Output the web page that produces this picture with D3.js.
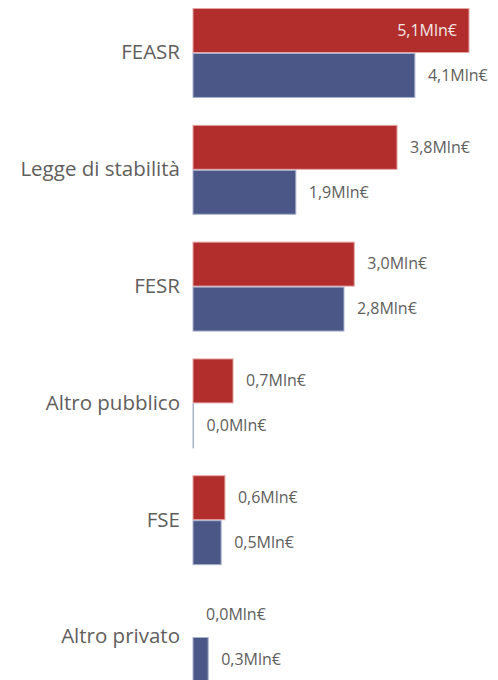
<!DOCTYPE html>
<html>
<head>
<meta charset="utf-8">
<script src="https://cdn.jsdelivr.net/npm/d3@7"></script>
<style>
  body { margin: 0; background: #fff; }
  svg { display: block; font-family: "Open Sans", "Noto Sans", sans-serif; }
</style>
</head>
<body>
<svg id="chart" width="498" height="680"></svg>
<script>
//Categories and the two series (Mln€)
var categories = ["FEASR", "Legge di stabilità", "FESR", "Altro pubblico", "FSE", "Altro privato"];
var seriesNames = ["rosso", "blu"];
var redValues = [5.1, 3.77, 2.98, 0.74, 0.59, 0];
var blueValues = [4.1, 1.9, 2.79, 0.01, 0.52, 0.28];

//Colours
var fillColors = {rosso: "#b22e2c", blu: "#4b5887"};
var strokeColors = {rosso: "#e3a6a5", blu: "#aab2cc"};

var W = 498, H = 680;
var svg = d3.select("#chart");

//Build the rows
var rows = categories.map(function(c, i){
    return {cat: c, vals: [
        {key: "rosso", v: redValues[i]},
        {key: "blu", v: blueValues[i]}
    ]};
});

//Scales
var y = d3.scaleBand()
    .domain(categories)
    .range([-5.4, 695.4])
    .paddingInner(0.23)
    .paddingOuter(0.115);

var ySub = d3.scaleBand()
    .domain(seriesNames)
    .range([0, y.bandwidth()]);

var x = d3.scaleLinear()
    .domain([0, 5.1])
    .range([193, 469]);

var fmt = function(v){ return d3.format(".1f")(v).replace(".", ",") + "Mln€"; };

//Category labels
svg.append("g").selectAll("text")
    .data(categories)
    .enter().append("text")
    .attr("x", 180)
    .attr("y", function(d){ return y(d) + y.bandwidth() / 2 + 1; })
    .attr("text-anchor", "end")
    .attr("dominant-baseline", "middle")
    .attr("fill", "#605e5c")
    .style("font-size", "20.5px")
    .text(function(d){ return d; });

var groups = svg.append("g").selectAll("g")
    .data(rows)
    .enter().append("g")
    .attr("transform", function(d){ return "translate(0," + y(d.cat) + ")"; });

//Bars (zero values are not drawn)
groups.selectAll("rect")
    .data(function(d){ return d.vals.filter(function(e){ return e.v > 0; }); })
    .enter().append("rect")
    .attr("x", x(0))
    .attr("y", function(d){ return ySub(d.key) + 0.5; })
    .attr("width", function(d){ return Math.max(0, x(d.v) - x(0)); })
    .attr("height", ySub.bandwidth() - 1)
    .attr("fill", function(d){ return fillColors[d.key]; })
    .attr("stroke", function(d){ return strokeColors[d.key]; })
    .attr("stroke-width", 1);

//Value labels, inside the bar when there is no room outside
groups.selectAll("text")
    .data(function(d){ return d.vals; })
    .enter().append("text")
    .attr("y", function(d){ return ySub(d.key) + ySub.bandwidth() / 2 + 1; })
    .attr("dominant-baseline", "middle")
    .style("font-size", "16px")
    .text(function(d){ return fmt(d.v); })
    .each(function(d){
        var t = d3.select(this);
        var w = this.getComputedTextLength();
        var end = x(d.v);
        if (end + 12 + w > W - 4) {
            t.attr("x", end - 12).attr("text-anchor", "end").attr("fill", "#f3e6e6");
        } else {
            t.attr("x", end + 13).attr("text-anchor", "start").attr("fill", "#605e5c");
        }
    });
</script>
</body>
</html>
